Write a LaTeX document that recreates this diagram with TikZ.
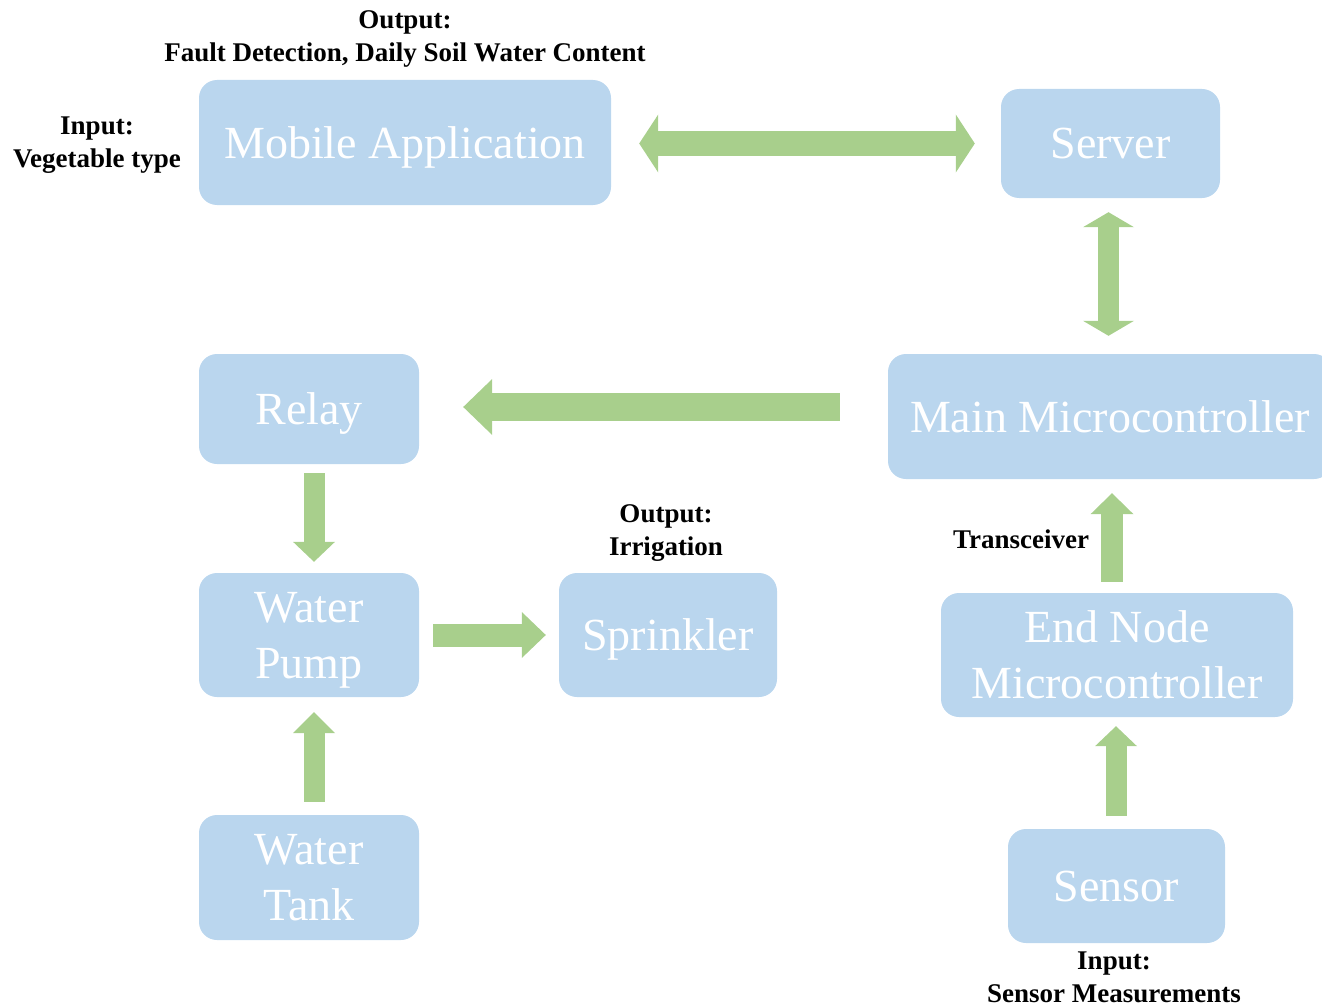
\documentclass[tikz,border=0pt]{standalone}
\usepackage{fontspec}
\setmainfont{Liberation Serif}
\usetikzlibrary{arrows.meta}
\definecolor{boxblue}{HTML}{BAD6EE}
\definecolor{agreen}{HTML}{A8CF8C}
\tikzset{
  box/.style={fill=boxblue, rounded corners=18pt, inner sep=0pt, align=center,
    text depth=0pt, text=white, font=\fontsize{46}{56}\selectfont},
  lbl/.style={align=center, inner sep=0pt, text depth=0pt, font=\fontsize{27}{33}\selectfont\bfseries},
  barrow/.style n args={3}{draw=agreen, line width=#1,
    -{Triangle[width=#2, length=#3, line width=0pt, fill=agreen]}},
  dbarrow/.style n args={3}{draw=agreen, line width=#1,
    {Triangle[width=#2, length=#3, line width=0pt, fill=agreen]}-{Triangle[width=#2, length=#3, line width=0pt, fill=agreen]}}
}
\begin{document}
\begin{tikzpicture}[x=1pt, y=-1pt]
\useasboundingbox (0,0) rectangle (1322,1006);
% boxes
\node[box, minimum width=412pt, minimum height=125pt] (mob) at (405,142.5) {Mobile Application};
\node[box, minimum width=219pt, minimum height=109pt] (srv) at (1110.5,143.5) {Server};
\node[box, minimum width=444pt, minimum height=125pt] (main) at (1110,416.5) {Main Microcontroller};
\node[box, minimum width=220pt, minimum height=110pt] (rel) at (309,409) {Relay};
\node[box, minimum width=220pt, minimum height=124pt] (pump) at (309,635) {Water\\Pump};
\node[box, minimum width=220pt, minimum height=125pt] (tank) at (309,877.5) {Water\\Tank};
\node[box, minimum width=218pt, minimum height=124pt] (spr) at (668,635) {Sprinkler};
\node[box, minimum width=352pt, minimum height=124pt] (end) at (1117,655) {End Node\\Microcontroller};
\node[box, minimum width=217pt, minimum height=114pt] (sen) at (1116.5,886) {Sensor};
% labels
\node[lbl] (outmob) at (405,36) {Output:\\Fault Detection, Daily Soil Water Content};
\node[lbl] (inmob) at (97,142.5) {Input:\\Vegetable type};
\node[lbl] (outspr) at (666,530) {Output:\\Irrigation};
\node[lbl] (trans) at (1021,539) {Transceiver};
\node[lbl] (insen) at (1114,977) {Input:\\Sensor Measurements};
% arrows
\draw[dbarrow={24pt}{58pt}{19pt}, shorten <=28pt, shorten >=26pt] (mob.east |- srv.west) -- (srv.west);
\draw[dbarrow={21pt}{51pt}{15pt}, shorten <=14pt, shorten >=18pt] ([xshift=-2pt]srv.south) -- ([xshift=-2pt]srv.south |- main.north);
\draw[barrow={28pt}{56pt}{29pt}, shorten <=48pt, shorten >=44pt] ([yshift=2pt]main.west |- rel.east) -- ([yshift=2pt]rel.east);
\draw[barrow={21pt}{42pt}{20pt}, shorten <=9pt, shorten >=11pt] ([xshift=5pt]rel.south) -- ([xshift=5pt]pump.north);
\draw[barrow={21pt}{42pt}{21pt}, shorten <=13pt, shorten >=15pt] ([xshift=5pt]tank.north) -- ([xshift=5pt]pump.south);
\draw[barrow={23pt}{46pt}{24pt}, shorten <=14pt, shorten >=13pt] (pump.east) -- (spr.west);
\draw[barrow={22pt}{43pt}{21pt}, shorten <=11pt, shorten >=14pt] ([xshift=-5pt]end.north) -- ([xshift=-5pt]end.north |- main.south);
\draw[barrow={21pt}{42pt}{20pt}, shorten <=13pt, shorten >=9pt] ([xshift=-0.5pt]sen.north) -- ([xshift=-0.5pt]sen.north |- end.south);
\end{tikzpicture}
\end{document}
